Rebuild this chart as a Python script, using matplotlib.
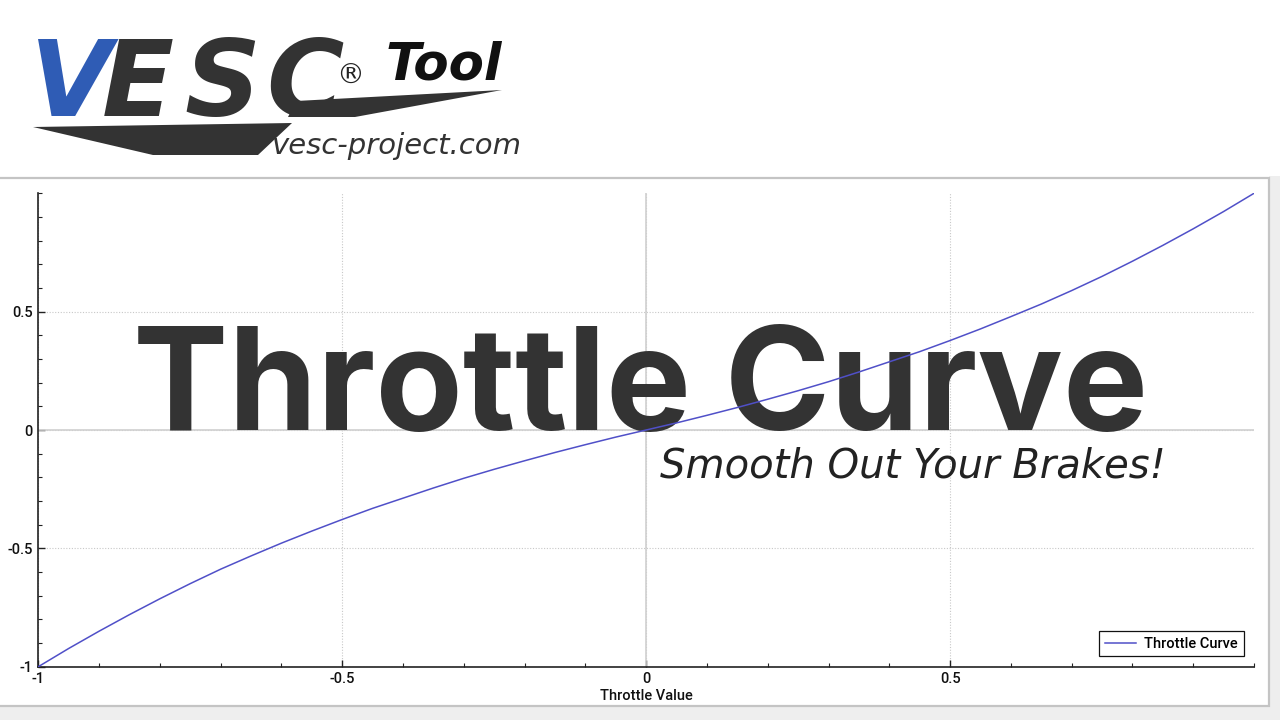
import matplotlib.pyplot as plt
from matplotlib.patches import Rectangle, Polygon
from matplotlib.ticker import MultipleLocator

# throttle curve (input -> output)
throttle = [-1.0, -0.95, -0.9, -0.85, -0.8, -0.75, -0.7, -0.65, -0.6, -0.55, -0.5,
            -0.45, -0.4, -0.35, -0.3, -0.25, -0.2, -0.15, -0.1, -0.05, 0.0,
            0.05, 0.1, 0.15, 0.2, 0.25, 0.3, 0.35, 0.4, 0.45, 0.5,
            0.55, 0.6, 0.65, 0.7, 0.75, 0.8, 0.85, 0.9, 0.95, 1.0]
output = [-1.0, -0.923, -0.85, -0.78, -0.713, -0.649, -0.588, -0.532, -0.478, -0.427, -0.378,
          -0.331, -0.288, -0.245, -0.204, -0.166, -0.13, -0.095, -0.062, -0.030, 0.0,
          0.030, 0.062, 0.095, 0.13, 0.166, 0.204, 0.245, 0.288, 0.331, 0.378,
          0.427, 0.479, 0.532, 0.589, 0.649, 0.713, 0.78, 0.85, 0.923, 1.0]

x_ticks = [-1, -0.5, 0, 0.5]
x_tick_labels = ['-1', '-0.5', '0', '0.5']
y_ticks = [-1, -0.5, 0, 0.5]
y_tick_labels = ['-1', '-0.5', '0', '0.5']

W, H = 1280, 720
fig = plt.figure(figsize=(12.8, 7.2), dpi=100)
fig.patch.set_facecolor('white')


def fx(px):
    return px / W


def fy(py):
    return 1 - py / H


# light grey frame around the plot panel
fig.patches.append(Rectangle((0, 0), 1, fy(706), transform=fig.transFigure,
                             facecolor='#eeeeee', edgecolor='none', zorder=-3))
fig.patches.append(Rectangle((fx(1269), 0), 1, 1, transform=fig.transFigure,
                             facecolor='#eeeeee', edgecolor='none', zorder=-3))
fig.patches.append(Rectangle((fx(-3), fy(706)), fx(1272), fy(178) - fy(706),
                             transform=fig.transFigure, facecolor='white',
                             edgecolor='#c4c4c4', lw=1.6, zorder=-2))
fig.patches.append(Rectangle((0, fy(176)), 1, 1, transform=fig.transFigure,
                             facecolor='white', edgecolor='none', zorder=-1))

# ---- logo ----
fig.patches.append(Polygon([(fx(33), fy(127)), (fx(292), fy(123)), (fx(258), fy(155)),
                            (fx(153), fy(155))], closed=True, transform=fig.transFigure,
                           facecolor='#333333', edgecolor='none'))
fig.patches.append(Polygon([(fx(296), fy(101)), (fx(502), fy(90)), (fx(355), fy(117)),
                            (fx(288), fy(117))], closed=True, transform=fig.transFigure,
                           facecolor='#333333', edgecolor='none'))
logo_letters = ['V', 'E', 'S', 'C']
logo_x = [30, 102, 184, 266]
logo_col = ['#2f5cb5', '#333333', '#333333', '#333333']
for ch, lx, c in zip(logo_letters, logo_x, logo_col):
    fig.text(fx(lx), fy(116), ch, fontsize=76, fontweight='bold', style='italic',
             family='DejaVu Sans', color=c, ha='left', va='baseline')
fig.text(fx(350), fy(84), '\u00ae', fontsize=20, color='#222222', ha='center',
         va='baseline', family='DejaVu Sans')
fig.text(fx(386), fy(80), 'Tool', fontsize=37, fontweight='bold', style='italic',
         family='DejaVu Sans', color='#111111', ha='left', va='baseline')
fig.text(fx(272), fy(154), 'vesc-project.com', fontsize=21, style='italic',
         family='DejaVu Sans', color='#333333', ha='left', va='baseline')

# ---- chart ----
ax = fig.add_axes([fx(38.3), fy(666.7), fx(1254) - fx(38.3), fy(193.3) - fy(666.7)])
ax.patch.set_visible(False)
ax.set_zorder(2)
ax.set_xlim(-1, 1)
ax.set_ylim(-1, 1)
ax.set_axisbelow(True)

for s in ['top', 'right']:
    ax.spines[s].set_visible(False)
for s in ['left', 'bottom']:
    ax.spines[s].set_color('#222222')
    ax.spines[s].set_linewidth(1.2)

ax.set_xticks(x_ticks)
ax.set_xticklabels(x_tick_labels)
ax.set_yticks(y_ticks)
ax.set_yticklabels(y_tick_labels)
ax.xaxis.set_minor_locator(MultipleLocator(0.1))
ax.yaxis.set_minor_locator(MultipleLocator(0.1))
ax.tick_params(which='major', direction='in', length=5, width=1, color='#222222',
               labelsize=10.5, pad=4)
ax.tick_params(which='minor', direction='in', length=3, width=0.8, color='#222222')
for lab in ax.get_xticklabels() + ax.get_yticklabels():
    lab.set_family('Roboto')
    lab.set_fontweight('medium')
    lab.set_color('#111111')

ax.grid(True, which='major', linestyle=(0, (1, 1.5)), color='#c8c8c8', lw=0.8)
ax.axhline(0, color='#d0d0d0', lw=1.2, zorder=0.6)
ax.axvline(0, color='#d0d0d0', lw=1.2, zorder=0.6)

ax.set_xlabel('Throttle Value', fontsize=10.5, family='Roboto', fontweight='medium',
              labelpad=2, color='#111111')

ax.plot(throttle, output, color='#5050c8', lw=1.1, label='Throttle Curve', zorder=3)
leg = ax.legend(loc='lower right', fancybox=False, framealpha=1, edgecolor='#111111',
                borderaxespad=0.7, handlelength=2.1, handletextpad=0.6,
                prop={'family': 'Roboto', 'weight': 'medium', 'size': 10.5})
leg.get_frame().set_linewidth(0.9)

# overlay titles
title = ax.text(fx(133), fy(430), 'Throttle Curve', transform=fig.transFigure,
                fontsize=100, fontweight='bold', family='Inter', color='#333333',
                ha='left', va='baseline', zorder=1, clip_on=False)
sub = ax.text(fx(660), fy(478), 'Smooth Out Your Brakes!', transform=fig.transFigure,
              fontsize=30, style='italic', family='DejaVu Sans',
              color='#222222', ha='left', va='baseline', zorder=1, clip_on=False)

rend = fig.canvas.get_renderer()
for t, target in [(title, 1015), (sub, 505)]:
    w = t.get_window_extent(rend).width
    t.set_fontsize(t.get_fontsize() * target / w)

fig.savefig('out.png', dpi=100)
